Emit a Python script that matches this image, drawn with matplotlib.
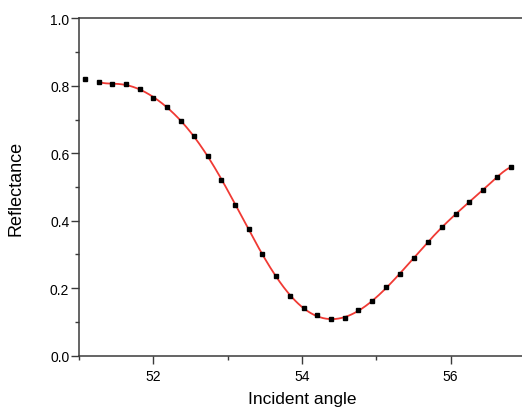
import matplotlib.pyplot as plt
import numpy as np
from matplotlib.ticker import MultipleLocator, FormatStrFormatter

plt.rcParams['font.family'] = ['Liberation Sans', 'DejaVu Sans']

angle = [51.086, 51.265, 51.449, 51.633, 51.816, 51.996, 52.180, 52.370,
         52.550, 52.735, 52.914, 53.098, 53.286, 53.465, 53.653, 53.837,
         54.025, 54.208, 54.392, 54.577, 54.759, 54.944, 55.132, 55.320,
         55.508, 55.696, 55.884, 56.068, 56.251, 56.435, 56.628, 56.816]
reflectance = [0.819, 0.812, 0.805, 0.804, 0.790, 0.764, 0.738, 0.695,
               0.651, 0.592, 0.520, 0.447, 0.376, 0.302, 0.235, 0.177,
               0.140, 0.120, 0.108, 0.111, 0.135, 0.161, 0.205, 0.243,
               0.289, 0.337, 0.382, 0.420, 0.456, 0.490, 0.531, 0.559]

x = np.array(angle)
y = np.array(reflectance)

# smooth fit through the data (first point left out, as in the original)
xs = x[1:]
ys = y[1:]
coef = np.polyfit(xs - xs.mean(), ys, 11)
xf = np.linspace(xs[0], xs[-1], 400)
yf = np.polyval(coef, xf - xs.mean())

fig = plt.figure(figsize=(5.22, 4.10), dpi=100)
ax = fig.add_axes([79 / 522, 53.3 / 410, (525 - 79) / 522, (356.7 - 19.3) / 410])

ax.plot(xf, yf, color='#f03a34', lw=1.3, zorder=2)
ax.plot(x, y, 's', color='black', ms=3, zorder=3)

ax.set_xlim(51, 57)
ax.set_ylim(0, 1.0)
ax.xaxis.set_major_locator(MultipleLocator(2))
ax.xaxis.set_minor_locator(MultipleLocator(1))
ax.yaxis.set_major_locator(MultipleLocator(0.2))
ax.yaxis.set_minor_locator(MultipleLocator(0.1))
ax.yaxis.set_major_formatter(FormatStrFormatter('%.1f'))

for s in ['left', 'bottom', 'top']:
    ax.spines[s].set_color('#3a3a3a')
    ax.spines[s].set_linewidth(1.1)
ax.spines['right'].set_visible(False)

ax.tick_params(which='major', direction='out', length=5.5, width=1, color='#3a3a3a',
               labelsize=10)
ax.tick_params(which='minor', direction='out', length=3, width=1, color='#3a3a3a')
ax.tick_params(axis='y', which='major', pad=1.5)
ax.tick_params(axis='x', which='major', pad=4)
ax.tick_params(top=False, right=False, which='both')

ax.set_xlabel('Incident angle', fontsize=12.5, labelpad=6)
ax.set_ylabel('Reflectance', fontsize=13, labelpad=18)

plt.savefig('out.png', dpi=100)
